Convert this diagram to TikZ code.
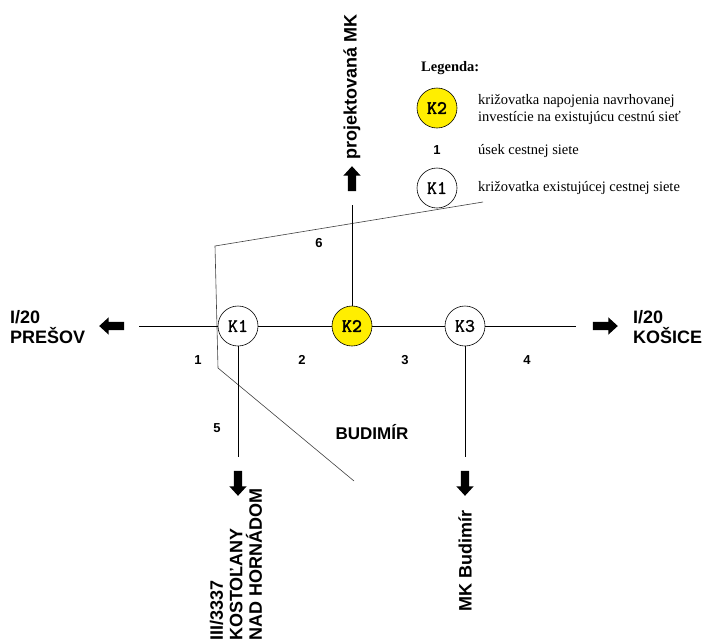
\documentclass[tikz,border=0pt]{standalone}
\usepackage{fontspec}
\setmainfont{Liberation Serif}
\setsansfont{Liberation Sans}
\newfontfamily\junctionfont{lmmono10-regular.otf}[FakeBold=1.2]
\newfontfamily\newjunctionfont{lmmono10-regular.otf}[FakeBold=2.4]
\usetikzlibrary{shapes.arrows}
\definecolor{kyellow}{RGB}{255,238,0}
\tikzset{
	junction/.style={circle, draw, line width=0.6pt, minimum size=40pt, inner sep=0pt, font=\junctionfont\fontsize{19}{19}\selectfont},
	newjunction/.style={junction, fill=kyellow, font=\newjunctionfont\fontsize{19}{19}\selectfont},
	dirarrow/.style={single arrow, fill=black, draw=none, inner xsep=0pt, inner ysep=4pt, minimum height=25pt, single arrow head extend=4.5pt, single arrow tip angle=85},
	roadname/.style={font=\sffamily\bfseries\fontsize{18}{20}\selectfont, inner sep=0pt, align=left},
	section/.style={font=\sffamily\bfseries\fontsize{13}{13}\selectfont, inner sep=0pt},
	legendtext/.style={font=\rmfamily\fontsize{14.5}{16.5}\selectfont, inner sep=0pt, anchor=base west},
	road/.style={line width=0.8pt},
	boundary/.style={line width=0.6pt, color=black!75}
}

\begin{document}
\begin{tikzpicture}[x=1pt, y=-1pt]
	%%%%% START %%%%%
	\useasboundingbox (0, 0) rectangle (704, 641);
	
	% built-up area boundary
	\draw[boundary] (483, 202) -- (215, 246) -- (218, 368) -- (354, 481);
	
	% junctions
	\node[junction] (K1) at (238, 326) {K1};
	\node[newjunction] (K2) at (352, 326) {K2};
	\node[junction] (K3) at (465, 326) {K3};
	
	\coordinate (westEnd) at (139, 326);
	\coordinate (eastEnd) at (576, 326);
	\coordinate (northEnd) at (352, 205);
	\coordinate (southEndA) at (238, 457);
	\coordinate (southEndB) at (465, 457);
	
	% roads
	\draw[road] (westEnd) -- (K1) -- (K2) -- (K3) -- (eastEnd);
	\draw[road] (K2) -- (northEnd);
	\draw[road] (K1) -- (southEndA);
	\draw[road] (K3) -- (southEndB);
	
	% directions
	\node[dirarrow, rotate=180] (arrWest) at (114, 326) {};
	\node[dirarrow] (arrEast) at (603, 326) {};
	\node[dirarrow, rotate=90] (arrNorth) at (352, 181) {};
	\node[dirarrow, rotate=270] (arrSouthA) at (238, 481) {};
	\node[dirarrow, rotate=270] (arrSouthB) at (465, 481) {};
	
	\node[roadname, anchor=west] (presov) at (10, 327) {I/20\\PREŠOV};
	\node[roadname, anchor=west] (kosice) at (633, 327) {I/20\\KOŠICE};
	\node[roadname, rotate=90] (projMK) at (352, 87) {projektovaná MK};
	\node[roadname, rotate=90] (budimirMK) at (465, 561) {MK Budimír};
	\node[roadname, rotate=90, anchor=west, font=\sffamily\bfseries\fontsize{18}{19.5}\selectfont] (kostolany) at (236, 641) {III/3337\\KOSTOĽANY\\NAD HORNÁDOM};
	\node[roadname, font=\sffamily\bfseries\fontsize{17}{17}\selectfont] (budimir) at (372, 432) {BUDIMÍR};
	
	% section numbers
	\node[section] (sec1) at (198, 360) {1};
	\node[section] (sec2) at (302, 360) {2};
	\node[section] (sec3) at (405, 360) {3};
	\node[section] (sec4) at (527, 360) {4};
	\node[section] (sec5) at (217, 428) {5};
	\node[section] (sec6) at (319, 243) {6};
	
	% legend
	\node[legendtext, font=\rmfamily\bfseries\fontsize{14.5}{14.5}\selectfont] (legTitle) at (421, 71) {Legenda:};
	\node[newjunction] (legK2) at (437, 108) {K2};
	\node[legendtext] (legK2a) at (478, 104) {križovatka napojenia navrhovanej};
	\node[legendtext] (legK2b) at (478, 121) {investície na existujúcu cestnú sieť};
	\node[section] (legSec) at (437, 150) {1};
	\node[legendtext] (legSecText) at (478, 154) {úsek cestnej siete};
	\node[junction] (legK1) at (437, 188) {K1};
	\node[legendtext] (legK1text) at (478, 191) {križovatka existujúcej cestnej siete};
	
	%%%%% END %%%%%
\end{tikzpicture}
\end{document}
